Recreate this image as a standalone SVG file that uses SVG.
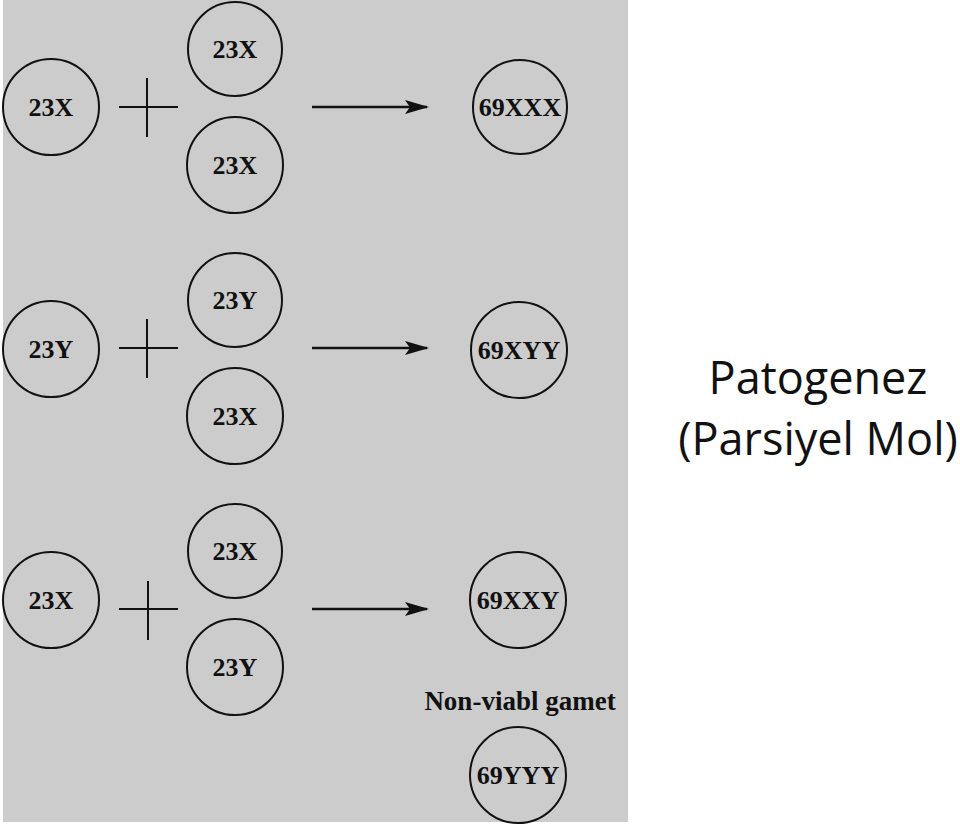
<svg xmlns="http://www.w3.org/2000/svg" width="960" height="824" viewBox="0 0 960 824">
<style>
.c{fill:none;stroke:#111;stroke-width:2}
.t{font-family:"Liberation Serif","Times New Roman",serif;font-weight:bold;font-size:26px;fill:#111;text-anchor:middle}
.p{stroke:#111;stroke-width:2;fill:none}
.a{stroke:#111;stroke-width:2.5;fill:none}
.h{font-family:"Open Sans","Liberation Sans",sans-serif;font-size:45px;fill:#111;text-anchor:middle}
</style>
<defs>
<marker id="ah" markerWidth="24" markerHeight="14" refX="22" refY="7" orient="auto" markerUnits="userSpaceOnUse" viewBox="0 0 24 14">
<path d="M0,0 L24,7 L0,14 L5,7 Z" fill="#111"/>
</marker>
</defs>
<rect x="3" y="0" width="625" height="822" fill="#cccccc"/>
<g id="n1a"><circle class="c" cx="51" cy="107" r="48"/><text class="t" x="51" y="116">23X</text></g>
<g id="n1b"><circle class="c" cx="235" cy="49" r="47"/><text class="t" x="235" y="58">23X</text></g>
<g id="n1c"><circle class="c" cx="235" cy="165" r="48"/><text class="t" x="235" y="174">23X</text></g>
<g id="n1r"><circle class="c" cx="520" cy="107" r="47"/><text class="t" x="520" y="116">69XXX</text></g>
<g id="n2a"><circle class="c" cx="51" cy="349" r="48"/><text class="t" x="51" y="358">23Y</text></g>
<g id="n2b"><circle class="c" cx="235" cy="300" r="47"/><text class="t" x="235" y="309">23Y</text></g>
<g id="n2c"><circle class="c" cx="235" cy="416" r="48"/><text class="t" x="235" y="425">23X</text></g>
<g id="n2r"><circle class="c" cx="519" cy="350" r="48"/><text class="t" x="519" y="359">69XYY</text></g>
<g id="n3a"><circle class="c" cx="51" cy="600" r="48"/><text class="t" x="51" y="609">23X</text></g>
<g id="n3b"><circle class="c" cx="235" cy="551" r="47"/><text class="t" x="235" y="560">23X</text></g>
<g id="n3c"><circle class="c" cx="235" cy="667" r="48"/><text class="t" x="235" y="676">23Y</text></g>
<g id="n3r"><circle class="c" cx="518" cy="600" r="48"/><text class="t" x="518" y="609">69XXY</text></g>
<g id="n4"><text class="t" x="520" y="710" style="font-size:27px">Non-viabl gamet</text><circle class="c" cx="518" cy="775" r="48"/><text class="t" x="518" y="784">69YYY</text></g>
<g id="plus">
<path class="p" d="M119,107 H178 M147,78 V137"/>
<path class="p" d="M119,348 H178 M147,319 V378"/>
<path class="p" d="M119,609 H178 M148,581 V640"/>
</g>
<g id="connectors">
<line class="a" x1="312" y1="107" x2="427" y2="107" marker-end="url(#ah)"/>
<line class="a" x1="312" y1="348" x2="427" y2="348" marker-end="url(#ah)"/>
<line class="a" x1="312" y1="609" x2="427" y2="609" marker-end="url(#ah)"/>
</g>
<g id="title">
<text class="h" x="818" y="394">Patogenez</text>
<text class="h" x="818" y="455">(Parsiyel Mol)</text>
</g>
</svg>
